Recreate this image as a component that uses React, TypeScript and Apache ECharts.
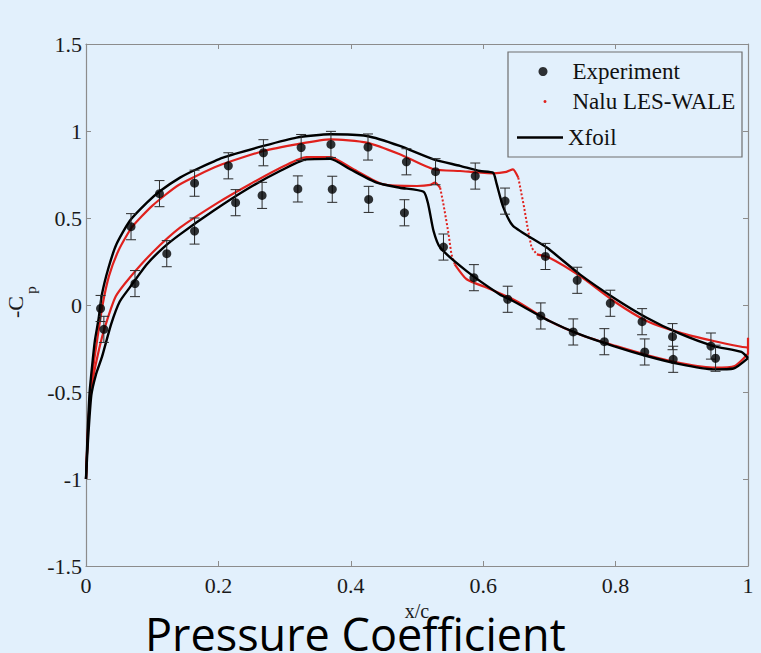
import React, { useEffect, useRef } from 'react';
import * as echarts from 'echarts';

// ---------- axis ticks ----------
const xTicks = [0, 0.2, 0.4, 0.6, 0.8, 1];
const yTicks = [-1.5, -1, -0.5, 0, 0.5, 1, 1.5];

// ---------- Experiment (upper / lower surface) ----------
const expUpperX = [0.022, 0.068, 0.111, 0.164, 0.215, 0.268, 0.325, 0.37, 0.426, 0.484, 0.528, 0.588, 0.633, 0.694, 0.742, 0.792, 0.84, 0.886, 0.944];
const expUpperY = [-0.02, 0.45, 0.64, 0.70, 0.80, 0.875, 0.905, 0.923, 0.908, 0.823, 0.766, 0.741, 0.597, 0.279, 0.142, 0.01, -0.096, -0.182, -0.236];
const expLowerX = [0.027, 0.074, 0.122, 0.164, 0.226, 0.266, 0.32, 0.372, 0.427, 0.481, 0.54, 0.586, 0.637, 0.687, 0.736, 0.783, 0.844, 0.887, 0.951];
const expLowerY = [-0.14, 0.123, 0.295, 0.425, 0.588, 0.63, 0.667, 0.665, 0.607, 0.53, 0.333, 0.157, 0.033, -0.063, -0.155, -0.211, -0.27, -0.312, -0.306];
const expError = 0.075;

// ---------- Xfoil ----------
const xfoilUpperX = [0, 0.002, 0.0055, 0.0106, 0.0136, 0.019, 0.024, 0.034, 0.046, 0.066, 0.092, 0.112, 0.142, 0.167, 0.207, 0.268, 0.318, 0.369, 0.424, 0.474, 0.525, 0.565, 0.595, 0.615, 0.62, 0.63, 0.645, 0.696, 0.746, 0.797, 0.847, 0.897, 0.948, 0.99, 1.0];
const xfoilUpperY = [-1.0, -0.78, -0.5, -0.3, -0.2, -0.08, 0.06, 0.214, 0.349, 0.483, 0.588, 0.655, 0.732, 0.78, 0.847, 0.914, 0.962, 0.981, 0.971, 0.914, 0.837, 0.80, 0.77, 0.76, 0.70, 0.565, 0.455, 0.33, 0.176, 0.042, -0.073, -0.165, -0.236, -0.27, -0.305];
const xfoilLowerX = [0, 0.003, 0.008, 0.015, 0.024, 0.038, 0.051, 0.066, 0.092, 0.117, 0.142, 0.192, 0.243, 0.293, 0.333, 0.369, 0.399, 0.439, 0.474, 0.51, 0.517, 0.525, 0.535, 0.575, 0.625, 0.645, 0.70, 0.746, 0.797, 0.847, 0.897, 0.948, 0.978, 1.0];
const xfoilLowerY = [-1.0, -0.78, -0.52, -0.4, -0.3, -0.11, 0.02, 0.1, 0.234, 0.33, 0.406, 0.54, 0.665, 0.77, 0.837, 0.84, 0.78, 0.703, 0.674, 0.651, 0.578, 0.425, 0.33, 0.195, 0.061, 0.023, -0.092, -0.169, -0.236, -0.293, -0.34, -0.37, -0.365, -0.305];

// ---------- Nalu LES-WALE ----------
const naluUpperFrontX = [0, 0.003, 0.007, 0.013, 0.017, 0.025, 0.035, 0.05, 0.07, 0.1, 0.14, 0.2, 0.268, 0.32, 0.369, 0.424, 0.474, 0.525, 0.565, 0.615, 0.635, 0.645, 0.653];
const naluUpperFrontY = [-1.0, -0.72, -0.48, -0.3, -0.197, 0.0, 0.17, 0.32, 0.45, 0.57, 0.69, 0.80, 0.885, 0.925, 0.952, 0.933, 0.866, 0.78, 0.77, 0.757, 0.765, 0.78, 0.732];
const naluUpperJumpX = [0.653, 0.661, 0.668, 0.673, 0.681];
const naluUpperJumpY = [0.732, 0.578, 0.425, 0.33, 0.291];
const naluUpperAftX = [0.681, 0.70, 0.746, 0.797, 0.847, 0.897, 0.948, 0.99, 1.0];
const naluUpperAftY = [0.291, 0.272, 0.167, 0.023, -0.092, -0.159, -0.207, -0.24, -0.245];
const naluTeX = [1.0, 1.0];
const naluTeY = [-0.188, -0.283];
const naluLowerFrontX = [0, 0.003, 0.008, 0.02, 0.03, 0.045, 0.066, 0.1, 0.142, 0.2, 0.247, 0.3, 0.333, 0.369, 0.404, 0.449, 0.5, 0.52, 0.527, 0.535];
const naluLowerFrontY = [-1.0, -0.72, -0.48, -0.25, -0.11, 0.05, 0.157, 0.3, 0.444, 0.59, 0.693, 0.8, 0.85, 0.85, 0.78, 0.693, 0.684, 0.69, 0.703, 0.674];
const naluLowerJumpX = [0.535, 0.54, 0.547, 0.552, 0.557];
const naluLowerJumpY = [0.674, 0.578, 0.425, 0.291, 0.234];
const naluLowerAftX = [0.557, 0.575, 0.605, 0.65, 0.70, 0.75, 0.8, 0.85, 0.9, 0.95, 0.98, 1.0];
const naluLowerAftY = [0.234, 0.148, 0.1, 0.023, -0.092, -0.175, -0.235, -0.29, -0.335, -0.36, -0.35, -0.28];

const BG = '#e2f0fc';
const RED = '#e0211d';
const AXIS = '#8c8c8c';
const SERIF = 'Liberation Serif';

const zip = (xs: number[], ys: number[]) => xs.map((x, i) => [x, ys[i]]);

export default function App() {
  const ref = useRef<HTMLDivElement>(null);

  useEffect(() => {
    if (!ref.current) return;
    const chart = echarts.init(ref.current, null, { renderer: 'svg' });

    const expAll = [...zip(expUpperX, expUpperY), ...zip(expLowerX, expLowerY)];
    const errData = expAll.map(([x, y]) => [x, y - expError, y + expError]);

    const naluLine = (xs: number[], ys: number[], dotted = false, smooth = 0.2) => ({
      name: 'Nalu LES-WALE',
      type: 'line',
      data: zip(xs, ys),
      symbol: 'none',
      showSymbol: false,
      silent: true,
      smooth,
      color: RED,
      lineStyle: { color: RED, width: dotted ? 2 : 2.2, type: dotted ? 'dotted' : 'solid' },
      z: 2,
    });
    const xfoilLine = (xs: number[], ys: number[]) => ({
      name: 'Xfoil',
      type: 'line',
      data: zip(xs, ys),
      symbol: 'none',
      showSymbol: false,
      silent: true,
      smooth: 0.2,
      color: '#000',
      lineStyle: { color: '#000', width: 2.4 },
      z: 3,
    });

    const axisCommon = {
      type: 'value',
      axisLine: { show: true, onZero: false, lineStyle: { color: AXIS, width: 1.2 } },
      axisTick: { show: true, inside: true, length: 5, lineStyle: { color: AXIS, width: 1 } },
      splitLine: { show: false },
    };
    const labelStyle = { color: '#1a1a1a', fontFamily: SERIF, fontSize: 22 };

    const option: any = {
      animation: false,
      backgroundColor: BG,
      textStyle: { fontFamily: SERIF },
      grid: { left: 86, right: 13, top: 44, bottom: 87, containLabel: false },
      xAxis: [
        {
          ...axisCommon,
          position: 'bottom',
          min: xTicks[0],
          max: xTicks[xTicks.length - 1],
          interval: xTicks[1] - xTicks[0],
          axisLabel: { ...labelStyle, margin: 8 },
          name: 'x/c',
          nameLocation: 'middle',
          nameGap: 26,
          nameTextStyle: { color: '#1a1a1a', fontFamily: SERIF, fontSize: 20 },
        },
        {
          ...axisCommon,
          position: 'top',
          min: xTicks[0],
          max: xTicks[xTicks.length - 1],
          interval: xTicks[1] - xTicks[0],
          axisLabel: { show: false },
        },
      ],
      yAxis: [
        {
          ...axisCommon,
          position: 'left',
          min: yTicks[0],
          max: yTicks[yTicks.length - 1],
          interval: yTicks[1] - yTicks[0],
          axisLabel: { ...labelStyle, margin: 4 },
        },
        {
          ...axisCommon,
          position: 'right',
          min: yTicks[0],
          max: yTicks[yTicks.length - 1],
          interval: yTicks[1] - yTicks[0],
          axisLabel: { show: false },
        },
      ],
      legend: [
        {
          data: [{ name: 'Experiment', icon: 'circle' }],
          left: 538.5, top: 60, padding: 0, itemWidth: 9, itemHeight: 9,
          textStyle: { fontFamily: SERIF, fontSize: 23, color: '#111', padding: [0, 0, 0, 20] },
          selectedMode: false,
        },
        {
          data: [{ name: 'Nalu LES-WALE', icon: 'circle' }],
          left: 543.5, top: 90, padding: 0, itemWidth: 3, itemHeight: 3,
          textStyle: { fontFamily: SERIF, fontSize: 23, color: '#111', padding: [0, 0, 0, 21] },
          selectedMode: false,
        },
        {
          data: [{ name: 'Xfoil', icon: 'rect' }],
          left: 517, top: 126, padding: 0, itemWidth: 46, itemHeight: 2.5,
          textStyle: { fontFamily: SERIF, fontSize: 23, color: '#111' },
          selectedMode: false,
        },
      ],
      graphic: [
        {
          type: 'rect',
          shape: { x: 508, y: 52, width: 234, height: 105 },
          style: { fill: 'none', stroke: '#6e6e6e', lineWidth: 1.2 },
          z: 10,
          silent: true,
        },
        {
          type: 'text',
          x: 15, y: 307, rotation: Math.PI / 2,
          style: { text: '-C', font: `22px ${SERIF}`, fill: '#1a1a1a', align: 'center', verticalAlign: 'middle' },
        },
        {
          type: 'text',
          x: 31, y: 290, rotation: Math.PI / 2,
          style: { text: 'p', font: `15px ${SERIF}`, fill: '#1a1a1a', align: 'center', verticalAlign: 'middle' },
        },
        {
          type: 'text',
          x: 145, y: 611,
          style: { text: 'Pressure Coefficient', font: `45px "Open Sans"`, fill: '#000', align: 'left', verticalAlign: 'top' },
        },
      ],
      series: [
        naluLine(naluUpperFrontX, naluUpperFrontY),
        naluLine(naluUpperJumpX, naluUpperJumpY, true, 0),
        naluLine(naluUpperAftX, naluUpperAftY),
        naluLine(naluTeX, naluTeY, false, 0),
        naluLine(naluLowerFrontX, naluLowerFrontY),
        naluLine(naluLowerJumpX, naluLowerJumpY, true, 0),
        naluLine(naluLowerAftX, naluLowerAftY),
        xfoilLine(xfoilUpperX, xfoilUpperY),
        xfoilLine(xfoilLowerX, xfoilLowerY),
        {
          name: 'errorbars',
          type: 'custom',
          silent: true,
          data: errData,
          encode: { x: 0, y: [1, 2] },
          z: 4,
          renderItem: (params: any, api: any) => {
            const x = api.value(0);
            const lo = api.value(1);
            const hi = api.value(2);
            const top = api.coord([x, hi]);
            const bot = api.coord([x, lo]);
            const w = 5;
            const st = { stroke: '#2a2a2a', lineWidth: 1 };
            return {
              type: 'group',
              children: [
                { type: 'line', shape: { x1: top[0], y1: top[1], x2: bot[0], y2: bot[1] }, style: st },
                { type: 'line', shape: { x1: top[0] - w, y1: top[1], x2: top[0] + w, y2: top[1] }, style: st },
                { type: 'line', shape: { x1: bot[0] - w, y1: bot[1], x2: bot[0] + w, y2: bot[1] }, style: st },
              ],
            };
          },
        },
        {
          name: 'Experiment',
          type: 'scatter',
          data: expAll,
          symbol: 'circle',
          symbolSize: 9,
          color: '#000',
          itemStyle: { color: '#000' },
          silent: true,
          z: 5,
        },
      ],
    };

    chart.setOption(option);
    return () => chart.dispose();
  }, []);

  return (
    <div
      ref={ref}
      style={{ position: 'fixed', left: 0, top: 0, width: 761, height: 653, background: BG }}
    />
  );
}
